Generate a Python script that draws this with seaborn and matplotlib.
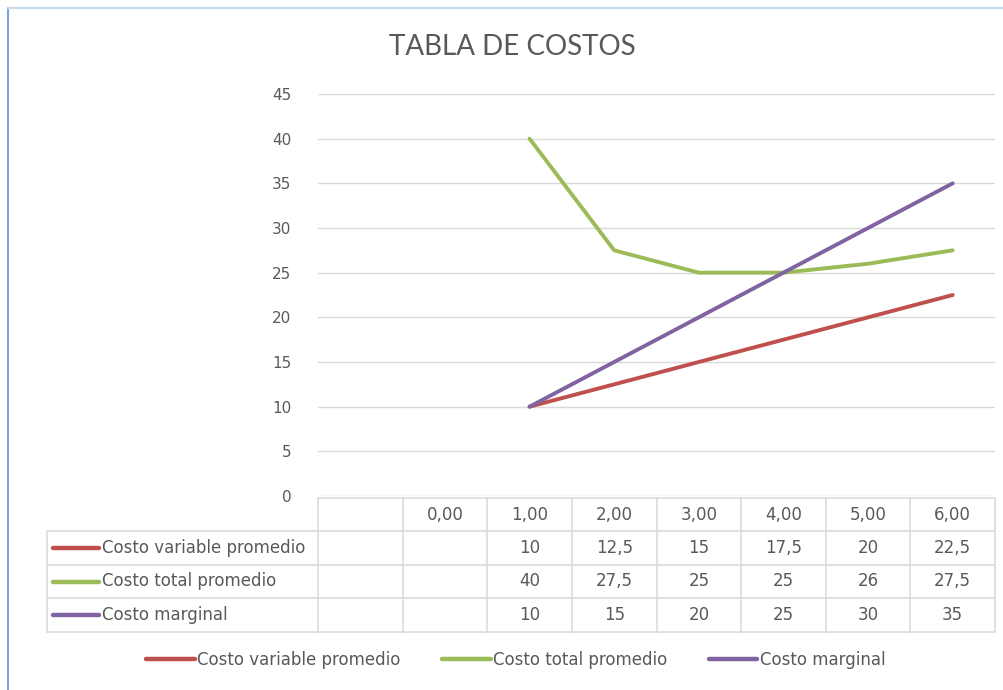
import matplotlib
matplotlib.use("Agg")
import matplotlib.pyplot as plt
import matplotlib.transforms as mtransforms
from matplotlib.lines import Line2D
import seaborn as sns
import pandas as pd
import numpy as np

categories = ["", "0,00", "1,00", "2,00", "3,00", "4,00", "5,00", "6,00"]
series_names = ["Costo variable promedio", "Costo total promedio", "Costo marginal"]
costo_variable = [None, None, 10, 12.5, 15, 17.5, 20, 22.5]
costo_total = [None, None, 40, 27.5, 25, 25, 26, 27.5]
costo_marginal = [None, None, 10, 15, 20, 25, 30, 35]
colors = ["#c0504d", "#9bbb59", "#8064a2"]
y_ticks = [0, 5, 10, 15, 20, 25, 30, 35, 40, 45]

sns.set_style("white")
plt.rcParams["font.family"] = ["DejaVu Sans"]
TXT = "#595959"
GRID = "#d9d9d9"
FS = 12
FS_TICK = 11

rows = []
for name, vals in zip(series_names, [costo_variable, costo_total, costo_marginal]):
    for i, v in enumerate(vals):
        if v is not None:
            rows.append({"pos": i, "valor": v, "serie": name})
df = pd.DataFrame(rows)

W, H = 1004, 690
fig = plt.figure(figsize=(W / 100, H / 100), dpi=100)
def fx(px): return px / W
def fy(py): return 1 - py / H

ax = fig.add_axes([fx(318), fy(496), fx(995) - fx(318), fy(94) - fy(496)])
sns.lineplot(data=df, x="pos", y="valor", hue="serie", hue_order=series_names,
             palette=colors, linewidth=2.8, ax=ax, legend=False, sort=False)
ax.set_xlim(-0.5, len(categories) - 0.5)
ax.set_ylim(0, 45)
ax.set_yticks(y_ticks)
ax.set_yticklabels([str(t) for t in y_ticks], fontsize=FS_TICK, color=TXT)
ax.tick_params(axis="y", length=0, pad=19)
ax.set_xticks([])
ax.set_xlabel("")
ax.set_ylabel("")
for s in ax.spines.values():
    s.set_visible(False)
ax.grid(axis="y", color=GRID, linewidth=1.0)
ax.set_axisbelow(True)

fig.text(fx(512), fy(47), "TABLA DE COSTOS", ha="center", va="center",
         fontsize=20, color=TXT, family=["Lato", "DejaVu Sans"])

# data table
tr = mtransforms.blended_transform_factory(ax.transData, fig.transFigure)
n = len(categories)
ybounds = [498, 531, 565, 598, 632]
fig.add_artist(Line2D([-0.5, n - 0.5], [fy(ybounds[0])] * 2, transform=tr, color=GRID, lw=1.1))
for yb in ybounds[1:]:
    fig.add_artist(Line2D([fx(47), fx(995)], [fy(yb)] * 2, transform=fig.transFigure, color=GRID, lw=1.1))
for k in range(n + 1):
    fig.add_artist(Line2D([k - 0.5, k - 0.5], [fy(ybounds[0]), fy(ybounds[-1])], transform=tr, color=GRID, lw=1.1))
fig.add_artist(Line2D([fx(47), fx(47)], [fy(ybounds[1]), fy(ybounds[-1])], transform=fig.transFigure, color=GRID, lw=1.1))

def fmt(v):
    if v is None:
        return ""
    if float(v).is_integer():
        return str(int(v))
    return str(v).replace(".", ",")

for i, c in enumerate(categories):
    ax.text(i, fy((ybounds[0] + ybounds[1]) / 2), c, transform=tr, ha="center", va="center", fontsize=FS, color=TXT)
for r, (name, vals, col) in enumerate(zip(series_names, [costo_variable, costo_total, costo_marginal], colors)):
    yc = fy((ybounds[r + 1] + ybounds[r + 2]) / 2)
    fig.add_artist(Line2D([fx(53), fx(99)], [yc, yc], transform=fig.transFigure, color=col, lw=3.2, solid_capstyle="round"))
    fig.text(fx(102), yc, name, ha="left", va="center", fontsize=FS, color=TXT)
    for i, v in enumerate(vals):
        ax.text(i, yc, fmt(v), transform=tr, ha="center", va="center", fontsize=FS, color=TXT)

# legend
handles = [Line2D([0], [0], color=c, lw=3.2, solid_capstyle="round") for c in colors]
fig.legend(handles, series_names, loc="center", bbox_to_anchor=(fx(516), fy(660)), ncol=3,
           frameon=False, fontsize=FS, handlelength=2.9, handletextpad=0.15, columnspacing=2.5,
           labelcolor=TXT)

# outer frame (partial, as in reference)
fig.add_artist(Line2D([fx(8), fx(8)], [fy(8), 0], transform=fig.transFigure, color="#7ea6dc", lw=1.5))
fig.add_artist(Line2D([fx(8), 1], [fy(8), fy(8)], transform=fig.transFigure, color="#c9d9f0", lw=1.5))

fig.savefig("out.png", dpi=100)
